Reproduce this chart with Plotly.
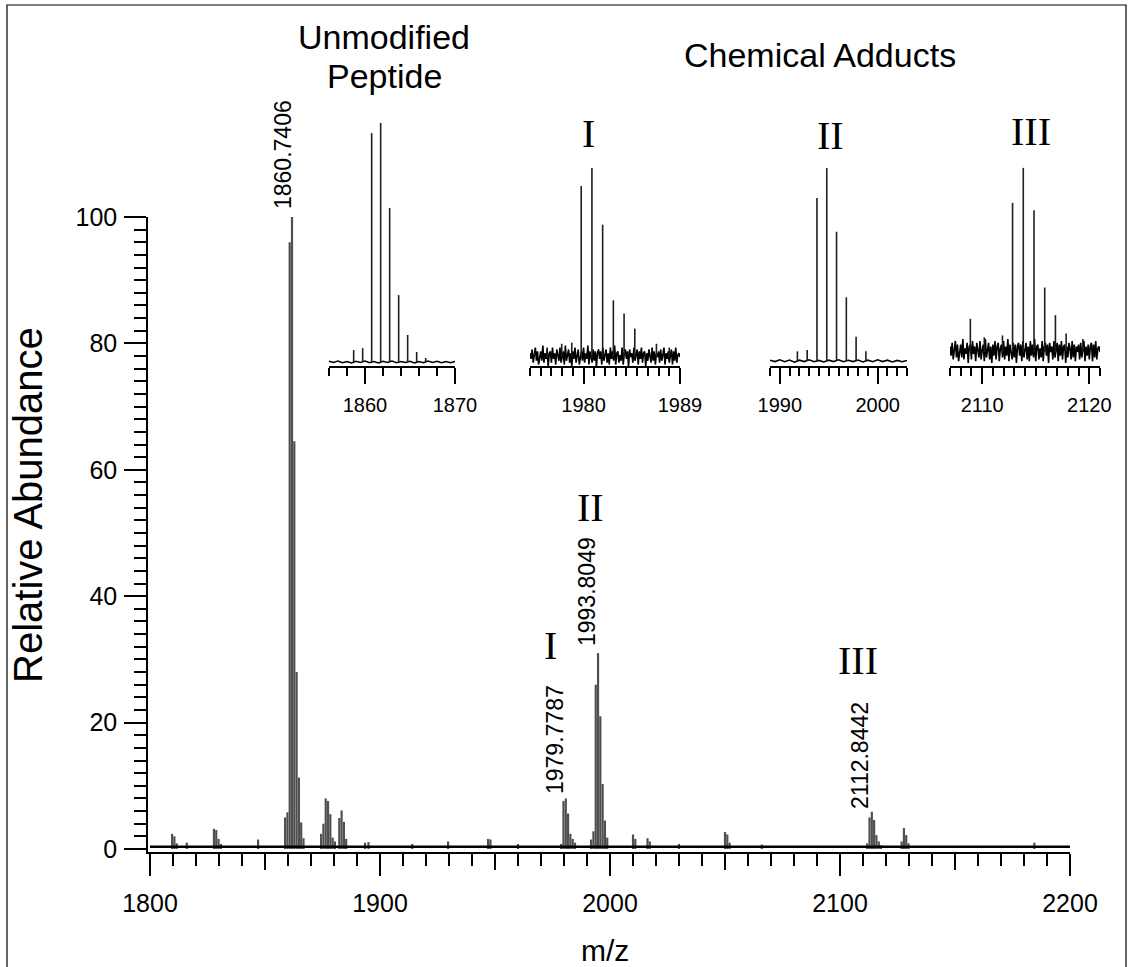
import numpy as np
import plotly.graph_objects as go

# ---------------- data ----------------
main_mz = [1809.6, 1810.6, 1811.6, 1816.0,
           1827.8, 1828.8, 1829.8, 1830.8, 1847.0,
           1858.74, 1859.74, 1860.74, 1861.74, 1862.74, 1863.74, 1864.74, 1865.74, 1866.74,
           1874.4, 1875.4, 1876.4, 1877.4, 1878.4, 1879.4, 1880.4,
           1882.3, 1883.3, 1884.3, 1885.3,
           1893.5, 1895.0, 1914.0, 1929.6, 1947.0, 1948.0, 1960.0,
           1978.78, 1979.78, 1980.78, 1981.78, 1982.78, 1983.78, 1984.78,
           1991.8, 1992.8, 1993.80, 1994.80, 1995.80, 1996.80, 1997.80, 1998.80,
           2010.0, 2011.0, 2016.3, 2017.3, 2030.0, 2050.0, 2051.0, 2052.0, 2066.0,
           2111.84, 2112.84, 2113.84, 2114.84, 2115.84, 2116.84, 2117.84,
           2126.8, 2127.8, 2128.8, 2129.8, 2184.5]
main_int = [2.4, 2.0, 0.9, 1.0,
            3.2, 3.0, 1.6, 0.8, 1.5,
            5.0, 5.8, 96.0, 100.0, 64.5, 28.0, 11.3, 4.2, 1.7,
            2.4, 4.0, 8.0, 7.6, 5.5, 1.8, 1.2,
            4.9, 6.1, 4.3, 1.6,
            1.0, 1.1, 0.8, 1.2, 1.6, 1.5, 0.8,
            0.8, 7.6, 8.0, 5.6, 2.4, 1.6, 1.0,
            1.5, 2.8, 26.0, 31.0, 21.0, 10.3, 4.5, 1.8,
            2.3, 1.6, 1.7, 1.2, 0.8, 2.7, 2.3, 1.0, 0.7,
            0.9, 5.0, 5.9, 4.6, 2.2, 1.2, 0.6,
            1.2, 3.3, 2.2, 0.9, 1.0]
main_baseline_mz = [1800, 2200]
main_baseline_int = [0.35, 0.35]

unmod_mz = [1858.74, 1859.74, 1860.74, 1861.74, 1862.74, 1863.74, 1864.74, 1865.74, 1866.74]
unmod_int = [0.05, 0.058, 0.958, 1.0, 0.644, 0.28, 0.113, 0.042, 0.017]
unmod_noise = [0.003, -0.002, 0.004, -0.003, 0.002, -0.004, 0.003, -0.002, 0.004, -0.003,
               0.002, -0.004, 0.003, -0.002, 0.004, -0.003, 0.002, -0.002, 0.003, -0.004,
               0.002, -0.003, 0.004, -0.002, 0.003, -0.003, 0.002, -0.003, 0.002]

addI_mz = [1976.6, 1977.96, 1978.9, 1979.78, 1980.78, 1981.78, 1982.78, 1983.78, 1984.78, 1986.8, 1988.0]
addI_int = [0.05, 0.07, 0.076, 0.905, 1.0, 0.70, 0.30, 0.23, 0.15, 0.07, 0.05]
addI_noise = [0.02, -0.01, 0.04, -0.03, 0.01, 0.05, -0.02, 0.03, -0.04, 0.00,
              0.03, -0.02, 0.06, -0.03, 0.02, -0.01, 0.04, -0.05, 0.02, 0.03,
              -0.03, 0.05, -0.01, 0.02, -0.04, 0.04, 0.01, -0.02, 0.05, -0.03,
              0.00, 0.03, -0.04, 0.06, -0.02, 0.01, 0.04, -0.03, 0.02, -0.05,
              0.03, -0.01, 0.05, -0.03, 0.02, 0.04, -0.04, 0.01, 0.03, -0.02,
              0.05, -0.03, 0.02, -0.01, 0.06, -0.04, 0.03, 0.00, -0.03, 0.04,
              -0.02, 0.03, -0.05, 0.02, 0.04, -0.01, 0.03, -0.04, 0.05, -0.02,
              0.01, 0.04, -0.03, 0.02, -0.04, 0.05, -0.01, 0.03, -0.02, 0.06,
              -0.04, 0.02, 0.03, -0.03, 0.01, -0.02, 0.05, -0.04, 0.02, 0.04,
              -0.01, 0.03, -0.05, 0.04, 0.00, 0.02, -0.03, 0.05, -0.02, 0.01,
              0.04, -0.04, 0.03, -0.01, 0.05, -0.03, 0.02, 0.03, -0.05, 0.02,
              -0.02, 0.04, 0.01, -0.03, 0.05, -0.02, 0.03, -0.04, 0.02, 0.00,
              0.03, -0.03, 0.04, -0.02, 0.01, 0.05, -0.04, 0.02, -0.01, 0.03,
              -0.03, 0.02, 0.04, -0.04, 0.03, -0.02, 0.05, -0.03, 0.01, 0.02,
              0.0]

addII_mz = [1991.8, 1992.8, 1993.80, 1994.80, 1995.80, 1996.80, 1997.80, 1998.80]
addII_int = [0.05, 0.057, 0.845, 1.0, 0.67, 0.33, 0.125, 0.05]
addII_noise = [0.004, -0.003, 0.006, -0.004, 0.005, -0.006, 0.004, -0.003, 0.006, -0.004,
               0.003, -0.005, 0.004, -0.003, 0.006, -0.004, 0.004, -0.003, 0.005, -0.005,
               0.004, -0.004, 0.006, -0.003, 0.004, -0.005, 0.003, -0.004, 0.003]

addIII_mz = [2108.9, 2110.2, 2111.9, 2112.84, 2113.84, 2114.84, 2115.84, 2116.84, 2117.84, 2119.4]
addIII_int = [0.18, 0.08, 0.09, 0.81, 1.0, 0.77, 0.35, 0.2, 0.1, 0.07]
addIII_noise = [0.03, -0.02, 0.05, -0.04, 0.01, 0.06, -0.03, 0.04, -0.05, 0.01,
                0.04, -0.03, 0.07, -0.04, 0.02, -0.01, 0.05, -0.06, 0.03, 0.04,
                -0.04, 0.06, -0.01, 0.03, -0.05, 0.05, 0.02, -0.03, 0.06, -0.04,
                0.01, 0.04, -0.05, 0.07, -0.03, 0.02, 0.05, -0.04, 0.03, -0.06,
                0.04, -0.02, 0.06, -0.04, 0.03, 0.05, -0.05, 0.02, 0.04, -0.03,
                0.06, -0.04, 0.03, -0.02, 0.07, -0.05, 0.04, 0.00, -0.04, 0.05,
                -0.03, 0.04, -0.06, 0.03, 0.05, -0.02, 0.04, -0.05, 0.06, -0.03,
                0.02, 0.05, -0.04, 0.03, -0.05, 0.06, -0.02, 0.04, -0.03, 0.07,
                -0.05, 0.03, 0.04, -0.04, 0.02, -0.03, 0.06, -0.05, 0.03, 0.05,
                -0.02, 0.04, -0.06, 0.05, 0.00, 0.03, -0.04, 0.06, -0.03, 0.02,
                0.05, -0.05, 0.04, -0.02, 0.06, -0.04, 0.03, 0.04, -0.06, 0.03,
                -0.03, 0.05, 0.02, -0.04, 0.06, -0.03, 0.04, -0.05, 0.03, 0.00,
                0.04, -0.04, 0.05, -0.03, 0.02, 0.06, -0.05, 0.03, -0.02, 0.04,
                -0.04, 0.03, 0.05, -0.05, 0.04, -0.03, 0.06, -0.04, 0.02, 0.03,
                0.0]

main_major_ticks = [1800, 1900, 2000, 2100, 2200]
main_mid_ticks = [1850, 1950, 2050, 2150]
inset_ranges = [(1856, 1870), (1975, 1989), (1989, 2003), (2107, 2121)]
inset_tickvals = [[1860, 1870], [1980, 1989], [1990, 2000], [2110, 2120]]
inset_minor = [2, 1, 1, 1]

# ---------------- helpers ----------------
SANS = "Liberation Sans, Arial, sans-serif"
SERIF = "Liberation Serif, Times New Roman, serif"


def sticks(mz, inten):
    xs, ys = [], []
    for m, h in zip(mz, inten):
        xs += [m, m, None]
        ys += [0, h, None]
    return xs, ys


# paper geometry: plot area left=148, right=1108, top=100, bottom=852
L, R, T, B = 148, 20, 100, 115
PW, PH = 1128 - L - R, 967 - T - B


def px(x):
    return (x - L) / PW


def py(y):
    return (967 - B - y) / PH


fig = go.Figure()

# main spectrum
mx, my = sticks(main_mz, main_int)
fig.add_trace(go.Scatter(x=mx, y=my, mode="lines",
                         line=dict(color="#505050", width=2.2),
                         hoverinfo="skip", showlegend=False))
fig.add_trace(go.Scatter(x=main_baseline_mz, y=main_baseline_int, mode="lines",
                         line=dict(color="black", width=2.6),
                         hoverinfo="skip", showlegend=False))
# carrier trace for the overlay axis that draws the mid ticks
fig.add_trace(go.Scatter(x=main_baseline_mz, y=main_baseline_int, mode="lines",
                         xaxis="x6", line=dict(color="rgba(0,0,0,0)", width=0),
                         hoverinfo="skip", showlegend=False))

insets = [(unmod_mz, unmod_int, unmod_noise, 1.6),
          (addI_mz, addI_int, addI_noise, 1.6),
          (addII_mz, addII_int, addII_noise, 1.6),
          (addIII_mz, addIII_int, addIII_noise, 1.6)]
for i, (mz, inten, noise, lw) in enumerate(insets):
    ax = str(i + 2)
    lo, hi = inset_ranges[i]
    nx = np.linspace(lo, hi, len(noise))
    fig.add_trace(go.Scatter(x=nx, y=noise, mode="lines", xaxis="x" + ax, yaxis="y" + ax,
                             line=dict(color="black", width=lw),
                             hoverinfo="skip", showlegend=False))
    sx, sy = sticks(mz, inten)
    fig.add_trace(go.Scatter(x=sx, y=sy, mode="lines", xaxis="x" + ax, yaxis="y" + ax,
                             line=dict(color="#1e1e1e", width=1.6),
                             hoverinfo="skip", showlegend=False))

main_xrange = [1799.13, 2200]

layout = dict(
    width=1128, height=967,
    margin=dict(l=L, r=R, t=T, b=B, autoexpand=False),
    paper_bgcolor="white", plot_bgcolor="white",
    font=dict(family=SANS, color="black"),
    showlegend=False,
    xaxis=dict(domain=[0, px(1070)], range=main_xrange, automargin=False,
               showline=True, linecolor="black", linewidth=1.5,
               ticks="outside", tickvals=main_major_ticks,
               ticklen=22, tickwidth=1.5, tickcolor="black",
               minor=dict(dtick=10, tick0=1800, ticks="outside", ticklen=12,
                          tickwidth=1.5, tickcolor="black"),
               tickfont=dict(size=25, family=SANS), ticklabelstandoff=6,
               showgrid=False, zeroline=False),
    xaxis6=dict(domain=[0, px(1070)], range=main_xrange, overlaying="x", anchor="y",
                side="bottom", automargin=False, showline=False,
                ticks="outside", tickvals=main_mid_ticks, ticklen=17, tickwidth=1.5,
                tickcolor="black", showticklabels=False,
                showgrid=False, zeroline=False),
    yaxis=dict(domain=[0, py(217)], range=[-0.475, 100], automargin=False,
               showline=True, linecolor="black", linewidth=1.5,
               ticks="outside", tickvals=list(range(0, 101, 20)),
               ticklen=22, tickwidth=1.5, tickcolor="black",
               minor=dict(dtick=2, tick0=0, ticks="outside", ticklen=12,
                          tickwidth=1.5, tickcolor="black"),
               tickfont=dict(size=25, family=SANS), ticklabelstandoff=2,
               showgrid=False, zeroline=False),
)

inset_px = [(329, 455), (530, 680), (770, 907), (950, 1100)]
inset_yr = [(-0.0167, 1.0126), (-0.0476, 1.254), (-0.026, 1.249), (-0.076, 1.26)]
for i in range(4):
    ax = str(i + 2)
    layout["xaxis" + ax] = dict(
        domain=[px(inset_px[i][0]), px(inset_px[i][1])], range=list(inset_ranges[i]),
        anchor="y" + ax, automargin=False, showline=True, linecolor="black", linewidth=1.5,
        ticks="outside", tickvals=inset_tickvals[i], ticklen=16, tickwidth=1.5,
        tickcolor="black",
        minor=dict(dtick=inset_minor[i], tick0=inset_ranges[i][0], ticks="outside",
                   ticklen=8, tickwidth=1.5, tickcolor="black"),
        tickfont=dict(size=20, family=SANS), ticklabelstandoff=4,
        showgrid=False, zeroline=False)
    layout["yaxis" + ax] = dict(
        domain=[py(366), py(120)], range=list(inset_yr[i]), anchor="x" + ax,
        automargin=False, visible=False, showgrid=False, zeroline=False)

fig.update_layout(**layout)


def ann(text, x, y, size, family=SANS, angle=0):
    fig.add_annotation(text=text, x=px(x), y=py(y), xref="paper", yref="paper",
                       xanchor="center", yanchor="middle", showarrow=False,
                       textangle=angle, font=dict(size=size, family=family, color="black"))


ann("Unmodified", 384, 37, 34)
ann("Peptide", 384, 76, 34)
ann("Chemical Adducts", 820, 55, 34)
ann("I", 588, 133, 40, SERIF)
ann("II", 830, 135, 40, SERIF)
ann("III", 1031, 132, 40, SERIF)
ann("I", 550, 645, 40, SERIF)
ann("II", 590, 507, 40, SERIF)
ann("III", 858, 660, 40, SERIF)
ann("1860.7406", 283, 155, 23, angle=-90)
ann("1979.7787", 555, 740, 23, angle=-90)
ann("1993.8049", 587, 592, 23, angle=-90)
ann("2112.8442", 860, 756, 23, angle=-90)
ann("Relative Abundance", 28, 505, 40, angle=-90)
ann("m/z", 605, 950, 30)

# outer frame
fig.add_shape(type="rect", xref="paper", yref="paper",
              x0=px(7), x1=px(1126), y0=py(990), y1=py(5),
              line=dict(color="black", width=1.2), fillcolor="rgba(0,0,0,0)")

fig.write_html("out.html")
